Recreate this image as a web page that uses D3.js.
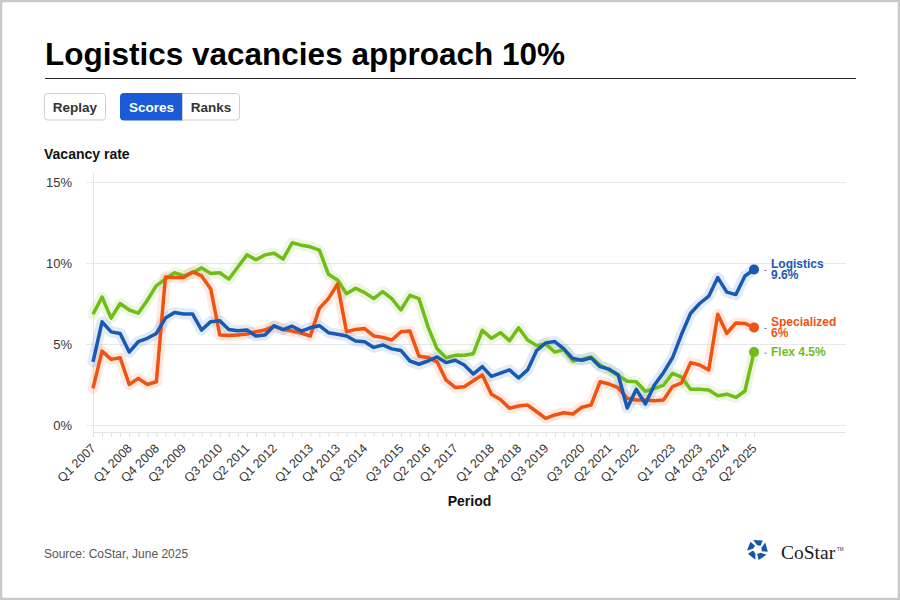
<!DOCTYPE html>
<html lang="en">
<head>
<meta charset="utf-8">
<title>Logistics vacancies approach 10%</title>
<script src="https://d3js.org/d3.v7.min.js"></script>
<style>
    body { margin: 0; background: #fff; }
    svg { display: block; font-family: "Liberation Sans", Arial, sans-serif; }
</style>
</head>
<body>
<div id="chart"></div>

<script>
// ---- data ----
var years = d3.range(2007, 2026);
var quarters = [];
years.forEach(function (yr) {
    [1, 2, 3, 4].forEach(function (q) {
        if (yr === 2025 && q > 2) return;
        quarters.push("Q" + q + " " + yr);
    });
});

var tickLabels = ["Q1 2007", "Q1 2008", "Q4 2008", "Q3 2009", "Q3 2010", "Q2 2011",
    "Q1 2012", "Q1 2013", "Q4 2013", "Q3 2014", "Q3 2015", "Q2 2016", "Q1 2017",
    "Q1 2018", "Q4 2018", "Q3 2019", "Q3 2020", "Q2 2021", "Q1 2022", "Q1 2023",
    "Q4 2023", "Q3 2024", "Q2 2025"];

var yTicks = [0, 5, 10, 15];

var logistics = [3.9, 6.37, 5.75, 5.65, 4.5, 5.14, 5.35, 5.65, 6.6, 6.95,
    6.85, 6.85, 5.86, 6.38, 6.44, 5.9, 5.82, 5.86, 5.49, 5.56,
    6.12, 5.88, 6.1, 5.8, 6.0, 6.13, 5.7, 5.6, 5.49, 5.18,
    5.14, 4.79, 4.94, 4.7, 4.6, 3.95, 3.75, 3.95, 4.2, 3.85,
    4.0, 3.7, 3.15, 3.6, 3.0, 3.2, 3.4, 2.9, 3.4, 4.6,
    5.07, 5.15, 4.7, 4.1, 4.0, 4.15, 3.6, 3.45, 3.1, 1.05,
    2.2, 1.3, 2.47, 3.23, 4.15, 5.6, 6.9, 7.5, 7.95, 9.1,
    8.2, 8.05, 9.2, 9.6];

var specialized = [2.26, 4.56, 4.05, 4.15, 2.5, 2.88, 2.5, 2.67, 9.14, 9.1,
    9.1, 9.45, 9.2, 8.4, 5.56, 5.52, 5.56, 5.62, 5.76, 5.86,
    6.1, 5.9, 5.8, 5.68, 5.49, 7.2, 7.8, 8.7, 5.76, 5.9,
    5.95, 5.5, 5.41, 5.25, 5.75, 5.8, 4.25, 4.17, 3.9, 2.77,
    2.32, 2.36, 2.73, 3.08, 1.9, 1.58, 1.03, 1.17, 1.23, 0.82,
    0.41, 0.62, 0.76, 0.68, 1.1, 1.23, 2.67, 2.53, 2.3, 1.65,
    1.54, 1.54, 1.5, 1.54, 2.37, 2.6, 3.85, 3.7, 3.4, 6.84,
    5.65, 6.3, 6.27, 6.02];

var flex = [6.84, 7.9, 6.6, 7.5, 7.1, 6.9, 7.7, 8.6, 9.0, 9.4,
    9.2, 9.4, 9.7, 9.35, 9.4, 9.0, 9.75, 10.5, 10.2, 10.5,
    10.6, 10.25, 11.25, 11.1, 11.0, 10.8, 9.3, 8.95, 8.1, 8.44,
    8.17, 7.8, 8.23, 7.8, 7.1, 8.0, 7.8, 6.06, 4.7, 4.15,
    4.3, 4.3, 4.4, 5.85, 5.35, 5.7, 5.2, 6.0, 5.25, 4.9,
    5.0, 4.5, 4.65, 3.95, 4.05, 4.2, 3.7, 3.4, 3.05, 2.7,
    2.67, 2.08, 2.26, 2.45, 3.19, 2.95, 2.2, 2.2, 2.16, 1.8,
    1.9, 1.7, 2.1, 4.5];

var seriesNames = ["Logistics", "Specialized", "Flex"];
var endLabels = [["Logistics", "9.6%"], ["Specialized", "6%"], ["Flex 4.5%"]];

// ---- styling / layout ----
var WIDTH = 900, HEIGHT = 600;
var colors = { "Logistics": "#1859b3", "Specialized": "#ee5311", "Flex": "#70bd17" };
var LEFT = 93, LAST = 754, RIGHT = 846, TOP = 182, BOTTOM = 425, AXIS_Y = 432;
var FONT_DARK = "#333";

var svg = d3.select("#chart")
    .append("svg")
    .attr("width", WIDTH)
    .attr("height", HEIGHT);

svg.append("rect")
    .attr("x", 1).attr("y", 1)
    .attr("width", WIDTH - 2).attr("height", HEIGHT - 2)
    .attr("fill", "#fff")
    .attr("stroke", "#c8c8c8")
    .attr("stroke-width", 2.5);

// title + rule
svg.append("text")
    .attr("x", 45).attr("y", 65)
    .attr("font-size", 31.5).attr("font-weight", "bold")
    .attr("fill", "#000")
    .text("Logistics vacancies approach 10%");

svg.append("line")
    .attr("x1", 45).attr("x2", 856)
    .attr("y1", 78.5).attr("y2", 78.5)
    .attr("stroke", "#222").attr("stroke-width", 1);

// buttons
function button(x, w, label, active, rounding) {
    var g = svg.append("g");
    g.append("path")
        .attr("d", roundedRect(x, 93.5, w, 26.5, rounding))
        .attr("fill", active ? "#1b5ad6" : "#fff")
        .attr("stroke", active ? "#1b5ad6" : "#cfcfcf");
    g.append("text")
        .attr("x", x + w / 2).attr("y", 112)
        .attr("text-anchor", "middle")
        .attr("font-size", 13.5).attr("font-weight", "bold")
        .attr("fill", active ? "#fff" : FONT_DARK)
        .text(label);
}

// r = [tl, tr, br, bl]
function roundedRect(x, y, w, h, r) {
    return "M" + (x + r[0]) + "," + y +
        "H" + (x + w - r[1]) + "Q" + (x + w) + "," + y + " " + (x + w) + "," + (y + r[1]) +
        "V" + (y + h - r[2]) + "Q" + (x + w) + "," + (y + h) + " " + (x + w - r[2]) + "," + (y + h) +
        "H" + (x + r[3]) + "Q" + x + "," + (y + h) + " " + x + "," + (y + h - r[3]) +
        "V" + (y + r[0]) + "Q" + x + "," + y + " " + (x + r[0]) + "," + y + "Z";
}

button(44.5, 61, "Replay", false, [3, 3, 3, 3]);
button(120.5, 62, "Scores", true, [3, 0, 0, 3]);
button(182.5, 57, "Ranks", false, [0, 3, 3, 0]);

svg.append("text")
    .attr("x", 44).attr("y", 159)
    .attr("font-size", 14).attr("font-weight", "bold")
    .attr("fill", "#111")
    .text("Vacancy rate");

// ---- scales ----
var x = d3.scalePoint().domain(quarters).range([LEFT, LAST]);
var y = d3.scaleLinear().domain([0, 15]).range([BOTTOM, TOP]);

// y axis with gridlines
var yAxis = svg.append("g")
    .attr("transform", "translate(" + RIGHT + ",0)")
    .call(d3.axisLeft(y)
        .tickValues(yTicks)
        .tickSize(RIGHT - 86)
        .tickPadding(14)
        .tickFormat(function (d) { return d + "%"; }));
yAxis.select(".domain").remove();
yAxis.selectAll(".tick line").attr("stroke", "#e8e8e8");
yAxis.selectAll(".tick text")
    .attr("font-size", 13)
    .attr("font-family", "Liberation Sans, Arial, sans-serif")
    .attr("fill", FONT_DARK);

svg.append("line")
    .attr("x1", LEFT + 0.5).attr("x2", LEFT + 0.5)
    .attr("y1", 173).attr("y2", AXIS_Y)
    .attr("stroke", "#e6e6e6");

// x axis
var xAxis = svg.append("g")
    .attr("transform", "translate(0," + AXIS_Y + ")")
    .call(d3.axisBottom(x)
        .tickSize(5)
        .tickFormat(function (d) { return tickLabels.indexOf(d) >= 0 ? d : ""; }));
xAxis.select(".domain").remove();
xAxis.selectAll(".tick line").attr("stroke", "#dedede");
xAxis.selectAll(".tick text")
    .attr("font-size", 12.5)
    .attr("font-family", "Liberation Sans, Arial, sans-serif")
    .attr("fill", FONT_DARK)
    .attr("text-anchor", "end")
    .attr("y", 0).attr("dy", 0)
    .attr("transform", "translate(3,17) rotate(-45)");

svg.append("line")
    .attr("x1", LEFT).attr("x2", RIGHT)
    .attr("y1", AXIS_Y + 0.5).attr("y2", AXIS_Y + 0.5)
    .attr("stroke", "#e3e3e3");

svg.append("text")
    .attr("x", (LEFT + RIGHT) / 2).attr("y", 506)
    .attr("text-anchor", "middle")
    .attr("font-size", 14).attr("font-weight", "bold")
    .attr("fill", "#111")
    .text("Period");

// ---- lines ----
var series = [
    { name: seriesNames[0], values: logistics, label: endLabels[0] },
    { name: seriesNames[1], values: specialized, label: endLabels[1] },
    { name: seriesNames[2], values: flex, label: endLabels[2] }
];

var line = d3.line()
    .x(function (d, i) { return x(quarters[i]); })
    .y(function (d) { return y(d); });

var drawOrder = [series[2], series[1], series[0]];

drawOrder.forEach(function (s) {
    svg.append("path")
        .attr("d", line(s.values))
        .attr("fill", "none")
        .attr("stroke", colors[s.name])
        .attr("stroke-opacity", 0.13)
        .attr("stroke-width", 11)
        .attr("stroke-linejoin", "round")
        .attr("stroke-linecap", "round");
});

drawOrder.forEach(function (s) {
    svg.append("path")
        .attr("d", line(s.values))
        .attr("fill", "none")
        .attr("stroke", colors[s.name])
        .attr("stroke-width", 3.5)
        .attr("stroke-linejoin", "round");
});

// end dots + labels
series.forEach(function (s) {
    var last = s.values.length - 1;
    var px = x(quarters[last]);
    var py = y(s.values[last]);

    svg.append("circle")
        .attr("cx", px).attr("cy", py)
        .attr("r", 5)
        .attr("fill", colors[s.name]);

    svg.append("line")
        .attr("x1", px + 10).attr("x2", px + 13)
        .attr("y1", py + 1).attr("y2", py + 1)
        .attr("stroke", "#999").attr("stroke-width", 1);

    var t = svg.append("text")
        .attr("font-size", 12).attr("font-weight", "bold")
        .attr("fill", colors[s.name]);
    if (s.label.length === 1) {
        t.append("tspan").attr("x", px + 17).attr("y", py + 4).text(s.label[0]);
    } else {
        t.append("tspan").attr("x", px + 17).attr("y", py - 1.5).text(s.label[0]);
        t.append("tspan").attr("x", px + 17).attr("y", py + 10).text(s.label[1]);
    }
});

// ---- footer ----
svg.append("text")
    .attr("x", 44).attr("y", 558)
    .attr("font-size", 12)
    .attr("fill", "#555")
    .text("Source: CoStar, June 2025");

// CoStar mark: pinwheel of five blue pieces
var logo = svg.append("g").attr("transform", "translate(757.5,549.5)");
function polar(r, deg) {
    var a = deg * Math.PI / 180;
    return [r * Math.cos(a), r * Math.sin(a)];
}
d3.range(5).forEach(function (k) {
    var a = -90 + k * 72;
    var pts = [polar(10.5, a - 24), polar(10.5, a + 30), polar(4.5, a + 40), polar(4.5, a - 8)];
    logo.append("polygon")
        .attr("points", pts.map(function (p) { return p.join(","); }).join(" "))
        .attr("fill", "#1656a8");
});

svg.append("text")
    .attr("x", 781).attr("y", 559)
    .attr("font-family", "Liberation Serif, Times New Roman, serif")
    .attr("font-size", 19.5)
    .attr("fill", "#1a1a1a")
    .text("CoStar");
svg.append("text")
    .attr("x", 837).attr("y", 551)
    .attr("font-size", 4.5)
    .attr("fill", "#333")
    .text("TM");
</script>
</body>
</html>
